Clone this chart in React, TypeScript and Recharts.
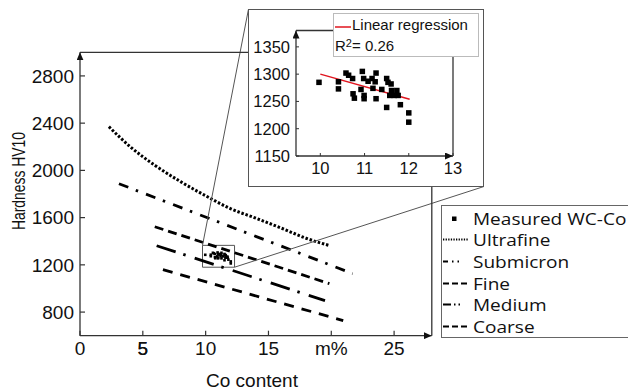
import React from 'react';
import {
  ComposedChart,
  Line,
  Scatter,
  XAxis,
  YAxis,
  ReferenceArea,
  ReferenceLine,
  ReferenceDot,
} from 'recharts';

// ---- Measured WC-Co samples (Co content m%, hardness HV10) ----
const MEASURED_CO = [
  9.97, 10.41, 10.41, 10.58, 10.64, 10.73, 10.74, 10.77, 10.95, 10.92, 10.98,
  10.99, 10.99, 11.08, 11.17, 11.19, 11.26, 11.24, 11.26, 11.39, 11.5, 11.53,
  11.5, 11.6, 11.61, 11.57, 11.67, 11.73, 11.76, 11.81, 12.0, 12.0,
];
const MEASURED_HV = [
  1285, 1286, 1273, 1302, 1298, 1292, 1264, 1256, 1305, 1272, 1292, 1261, 1255,
  1287, 1292, 1274, 1302, 1286, 1255, 1272, 1292, 1285, 1239, 1282, 1270, 1261,
  1261, 1270, 1261, 1244, 1229, 1212,
];

// ---- Grade curves ----
const ULTRAFINE_CO = [2.3, 4, 6, 8, 10, 12, 14, 16, 18, 19.8];
const ULTRAFINE_HV = [2370, 2200, 2040, 1905, 1785, 1675, 1595, 1512, 1425, 1365];
const SUBMICRON_CO = [3.1, 21.7];
const SUBMICRON_HV = [1887, 1126];
const FINE_CO = [5.95, 19.85];
const FINE_HV = [1523, 1041];
const MEDIUM_CO = [6.1, 19.5];
const MEDIUM_HV = [1362, 897];
const COARSE_CO = [6.6, 20.95];
const COARSE_HV = [1159, 728];

// ---- Linear regression (inset) ----
const REGRESSION_CO = [10.0, 12.02];
const REGRESSION_HV = [1300, 1254];
const R_SQUARED = '0.26';

// ---- Ticks ----
const MAIN_X_TICKS = [0, 5, 10, 15, 20, 25];
const MAIN_X_LABELS = ['0', '5', '10', '15', 'm%', '25'];
const MAIN_X_MINOR = [2.5, 7.5, 12.5, 17.5, 22.5];
const MAIN_X_ALL = [2.5, 5, 7.5, 10, 12.5, 15, 17.5, 20, 22.5, 25];
const MAIN_Y_TICKS = [800, 1200, 1600, 2000, 2400, 2800];
const MAIN_Y_MINOR = [1000, 1400, 1800, 2200, 2600];
const MAIN_Y_ALL = [800, 1000, 1200, 1400, 1600, 1800, 2000, 2200, 2400, 2600, 2800];
const MAIN_Y_MIN = 600;
const INSET_X_TICKS = [10, 11, 12, 13];
const INSET_X_MINOR = [10.5, 11.5, 12.5];
const INSET_X_ALL = [9.5, 10, 10.5, 11, 11.5, 12, 12.5];
const INSET_Y_TICKS = [1150, 1200, 1250, 1300, 1350];
const INSET_Y_MINOR = [1175, 1225, 1275, 1325, 1375];
const INSET_Y_ALL = [1175, 1200, 1225, 1250, 1275, 1300, 1325, 1350, 1375];

// ---- Zoom annotation (main chart data units) ----
const ZOOM_BOX = { x1: 9.75, x2: 12.3, y1: 1180, y2: 1365 };
const CONNECTOR_A = [{ x: 9.75, y: 1365 }, { x: 13.41, y: 3365 }];
const CONNECTOR_B = [{ x: 12.3, y: 1180 }, { x: 32.14, y: 1863 }];

const LEGEND = [
  { name: 'Measured WC-Co', kind: 'marker', dash: '' },
  { name: 'Ultrafine', kind: 'line', dash: '1.3 1.3' },
  { name: 'Submicron', kind: 'line', dash: '5 4 1.5 4 1.5 30' },
  { name: 'Fine', kind: 'line', dash: '6 3' },
  { name: 'Medium', kind: 'line', dash: '8 3 1.5 3 1.5 30' },
  { name: 'Coarse', kind: 'line', dash: '6 3' },
];

const pts = (xs: number[], ys: number[]) => xs.map((x, i) => ({ co: x, hv: ys[i] }));

const measured = pts(MEASURED_CO, MEASURED_HV);
const ultrafine = pts(ULTRAFINE_CO, ULTRAFINE_HV);
const submicron = pts(SUBMICRON_CO, SUBMICRON_HV);
const fine = pts(FINE_CO, FINE_HV);
const medium = pts(MEDIUM_CO, MEDIUM_HV);
const coarse = pts(COARSE_CO, COARSE_HV);
const regression = pts(REGRESSION_CO, REGRESSION_HV);

const AX = '#333';
const TXT = '#111';
const NUM_FONT = '"Liberation Sans", Arial, sans-serif';

const square = (s: number) => (p: any) => (
  <rect x={p.cx - s / 2} y={p.cy - s / 2} width={s} height={s} fill="#000" />
);

// bottom-axis tick label, digit tops ~6px below the axis line
const MainXTick = (p: any) => {
  const v = p.payload?.value;
  const idx = MAIN_X_TICKS.indexOf(v);
  const label = idx >= 0 ? MAIN_X_LABELS[idx] : String(v);
  return (
    <text x={p.x} y={p.y + 13.5} textAnchor="middle" fontSize={19} fontFamily={NUM_FONT} fill={TXT}>
      {label}
    </text>
  );
};

const MainChart = () => (
  <ComposedChart
    width={628}
    height={392}
    margin={{ top: 51.3, right: 195.2, bottom: 54.3, left: 78 }}
    style={{ position: 'absolute', left: 0, top: 0 }}
  >
    <defs>
      <marker id="arrM" viewBox="0 0 8 7" refX="8" refY="3.5" markerWidth="8" markerHeight="7"
        markerUnits="userSpaceOnUse" orient="auto-start-reverse">
        <path d="M0,0 L8,3.5 L0,7 Z" fill="#111" />
      </marker>
    </defs>
    <XAxis xAxisId="x" type="number" dataKey="co" domain={[0, 28]} allowDataOverflow
      ticks={MAIN_X_TICKS} interval={0} height={1} tickSize={-5} tickMargin={11}
      tick={<MainXTick />}
      axisLine={{ stroke: AX, strokeWidth: 1.3, markerEnd: 'url(#arrM)' }}
      tickLine={{ stroke: AX, strokeWidth: 1.2 }} />
    <XAxis xAxisId="xm" type="number" domain={[0, 28]} allowDataOverflow ticks={MAIN_X_MINOR}
      interval={0} height={1} tickSize={-3} tick={false} axisLine={false}
      tickLine={{ stroke: AX, strokeWidth: 1.2 }} />
    <XAxis xAxisId="xt" orientation="top" type="number" domain={[0, 28]} allowDataOverflow
      ticks={MAIN_X_ALL} interval={0} height={1} tickSize={-3} tick={false}
      axisLine={{ stroke: AX, strokeWidth: 1.3 }} tickLine={{ stroke: AX, strokeWidth: 1.2 }} />
    <YAxis yAxisId="y" type="number" dataKey="hv" domain={[600, 3000]} allowDataOverflow
      ticks={MAIN_Y_TICKS} interval={0} width={1} tickSize={-5} tickMargin={11}
      tick={{ fontSize: 19, fill: TXT, fontFamily: NUM_FONT }}
      axisLine={{ stroke: AX, strokeWidth: 1.3, markerStart: 'url(#arrM)' }}
      tickLine={{ stroke: AX, strokeWidth: 1.2 }} />
    <YAxis yAxisId="ym" type="number" domain={[600, 3000]} allowDataOverflow ticks={MAIN_Y_MINOR}
      interval={0} width={1} tickSize={-3} tick={false} axisLine={false}
      tickLine={{ stroke: AX, strokeWidth: 1.2 }} />
    <YAxis yAxisId="yr" orientation="right" type="number" domain={[600, 3000]} allowDataOverflow
      ticks={MAIN_Y_ALL} interval={0} width={1} tickSize={-4} tick={false}
      axisLine={{ stroke: AX, strokeWidth: 1.3 }} tickLine={{ stroke: AX, strokeWidth: 1.2 }} />

    <Line xAxisId="x" yAxisId="y" data={ultrafine} dataKey="hv" type="monotone" stroke="#000"
      strokeWidth={3} strokeDasharray="2.5 1.8" dot={false} isAnimationActive={false} />
    <Line xAxisId="x" yAxisId="y" data={submicron} dataKey="hv" type="linear" stroke="#000"
      strokeWidth={2.8} strokeDasharray="10 8 2.5 8.5" dot={false} isAnimationActive={false} />
    <Line xAxisId="x" yAxisId="y" data={fine} dataKey="hv" type="linear" stroke="#000"
      strokeWidth={2.8} strokeDasharray="9 5" dot={false} isAnimationActive={false} />
    <Line xAxisId="x" yAxisId="y" data={medium} dataKey="hv" type="linear" stroke="#000"
      strokeWidth={2.8} strokeDasharray="20 8 2.5 9.5" dot={false} isAnimationActive={false} />
    <Line xAxisId="x" yAxisId="y" data={coarse} dataKey="hv" type="linear" stroke="#000"
      strokeWidth={2.8} strokeDasharray="10 8" dot={false} isAnimationActive={false} />
    <Scatter xAxisId="x" yAxisId="y" data={measured} dataKey="hv" shape={square(2.6)}
      isAnimationActive={false} />

    <ReferenceArea xAxisId="x" yAxisId="y" x1={ZOOM_BOX.x1} x2={ZOOM_BOX.x2} y1={ZOOM_BOX.y1}
      y2={ZOOM_BOX.y2} fill="none" fillOpacity={0} stroke="#555" strokeWidth={1} ifOverflow="visible" />
    <ReferenceLine xAxisId="x" yAxisId="y" segment={CONNECTOR_A} stroke="#555" strokeWidth={1}
      ifOverflow="visible" />
    <ReferenceLine xAxisId="x" yAxisId="y" segment={CONNECTOR_B} stroke="#555" strokeWidth={1}
      ifOverflow="visible" />
    {/* the "5" tick label, placed on the axis through the x scale */}
    <ReferenceDot xAxisId="x" yAxisId="y" x={MAIN_X_TICKS[1]} y={MAIN_Y_MIN} r={0} fill="none"
      stroke="none" ifOverflow="visible"
      label={{ value: MAIN_X_LABELS[1], position: 'bottom', offset: 6.3, fontSize: 19,
        fontFamily: NUM_FONT, fill: TXT }} />

    <text x={25} y={181} transform="rotate(-90 25 181)" textAnchor="middle" fontSize={18}
      textLength={98} lengthAdjust="spacingAndGlyphs" fontFamily={NUM_FONT} fill={TXT}>
      Hardness HV10
    </text>
    <text x={252} y={387} textAnchor="middle" fontSize={19} fontFamily={NUM_FONT} fill={TXT}>
      Co content
    </text>
  </ComposedChart>
);

const InsetChart = () => (
  <div style={{ position: 'absolute', left: 248, top: 9, width: 236, height: 178,
    border: '1px solid #555', boxSizing: 'border-box', background: '#fff' }}>
    <ComposedChart width={234} height={176} margin={{ top: 19.5, right: 29, bottom: 28, left: 45 }}>
      <defs>
        <marker id="arrI" viewBox="0 0 8 7" refX="8" refY="3.5" markerWidth="8" markerHeight="7"
          markerUnits="userSpaceOnUse" orient="auto-start-reverse">
          <path d="M0,0 L8,3.5 L0,7 Z" fill="#111" />
        </marker>
      </defs>
      <XAxis xAxisId="x" type="number" dataKey="co" domain={[9.45, 13]} allowDataOverflow
        ticks={INSET_X_TICKS} interval={0} height={1} tickSize={-3} tickMargin={9}
        tick={{ fontSize: 16.5, fill: TXT, fontFamily: NUM_FONT }}
        axisLine={{ stroke: AX, strokeWidth: 1.3, markerEnd: 'url(#arrI)' }}
        tickLine={{ stroke: AX, strokeWidth: 1 }} />
      <XAxis xAxisId="xm" type="number" domain={[9.45, 13]} allowDataOverflow
        ticks={INSET_X_MINOR} interval={0} height={1} tickSize={-2} tick={false} axisLine={false}
        tickLine={{ stroke: AX, strokeWidth: 1 }} />
      <XAxis xAxisId="xt" orientation="top" type="number" domain={[9.45, 13]} allowDataOverflow
        ticks={INSET_X_ALL} interval={0} height={1} tickSize={-2} tick={false}
        axisLine={{ stroke: AX, strokeWidth: 1.3 }} tickLine={{ stroke: AX, strokeWidth: 1 }} />
      <YAxis yAxisId="y" type="number" dataKey="hv" domain={[1150, 1380]} allowDataOverflow
        ticks={INSET_Y_TICKS} interval={0} width={1} tickSize={-3} tickMargin={9}
        tick={{ fontSize: 16.5, fill: TXT, fontFamily: NUM_FONT }}
        axisLine={{ stroke: AX, strokeWidth: 1.3, markerStart: 'url(#arrI)' }}
        tickLine={{ stroke: AX, strokeWidth: 1 }} />
      <YAxis yAxisId="ym" type="number" domain={[1150, 1380]} allowDataOverflow
        ticks={INSET_Y_MINOR} interval={0} width={1} tickSize={-2} tick={false}
        axisLine={false} tickLine={{ stroke: AX, strokeWidth: 1 }} />
      <YAxis yAxisId="yr" orientation="right" type="number" domain={[1150, 1380]} allowDataOverflow
        ticks={INSET_Y_ALL} interval={0} width={1} tickSize={-2.5} tick={false}
        axisLine={{ stroke: AX, strokeWidth: 1.3 }} tickLine={{ stroke: AX, strokeWidth: 1 }} />

      <Scatter xAxisId="x" yAxisId="y" data={measured} dataKey="hv" shape={square(5.5)}
        isAnimationActive={false} />
      <Line xAxisId="x" yAxisId="y" data={regression} dataKey="hv" type="linear" stroke="#e0141e"
        strokeWidth={1.5} dot={false} isAnimationActive={false} />
    </ComposedChart>
    <div style={{ position: 'absolute', left: 84, top: 3, width: 146, height: 44,
      border: '1px solid #bbb', boxSizing: 'border-box', background: '#fff',
      fontFamily: NUM_FONT, fontSize: 15, color: TXT }}>
      <svg width={16} height={4} style={{ position: 'absolute', left: 1, top: 11 }}>
        <line x1={0} y1={2} x2={16} y2={2} stroke="#e0141e" strokeWidth={1.5} />
      </svg>
      <div style={{ position: 'absolute', left: 18, top: 1, lineHeight: '20px', whiteSpace: 'nowrap' }}>
        Linear regression
      </div>
      <div style={{ position: 'absolute', left: 1, top: 23, lineHeight: '18px', whiteSpace: 'nowrap' }}>
        R<sup style={{ fontSize: 11, verticalAlign: 'top', lineHeight: '12px' }}>2</sup>= {R_SQUARED}
      </div>
    </div>
  </div>
);

const MainLegend = () => (
  <div style={{ position: 'absolute', left: 441, top: 205, width: 200, height: 133,
    border: '1px solid #666', boxSizing: 'border-box', background: '#fff',
    fontFamily: '"Open Sans", sans-serif', fontSize: 17, color: TXT }}>
    {LEGEND.map((item, i) => (
      <div key={item.name} style={{ position: 'absolute', left: 0, top: 1.5 + i * 21.7, height: 21,
        width: 200, lineHeight: '21px', whiteSpace: 'nowrap' }}>
        <svg width={28} height={21} style={{ position: 'absolute', left: 1, top: 0 }}>
          {item.kind === 'marker' ? (
            <rect x={9} y={8.5} width={4.5} height={4.5} fill="#000" />
          ) : (
            <line x1={0} y1={10.5} x2={26} y2={10.5} stroke="#000" strokeWidth={1.8}
              strokeDasharray={item.dash} />
          )}
        </svg>
        <span style={{ position: 'absolute', left: 31, top: 0, display: 'inline-block',
          transform: 'scaleX(1.12)', transformOrigin: 'left center' }}>{item.name}</span>
      </div>
    ))}
  </div>
);

export default function App() {
  return (
    <div style={{ position: 'absolute', left: 0, top: 0, width: 628, height: 392,
      overflow: 'hidden', background: '#fff' }}>
      <MainChart />
      <InsetChart />
      <MainLegend />
    </div>
  );
}
